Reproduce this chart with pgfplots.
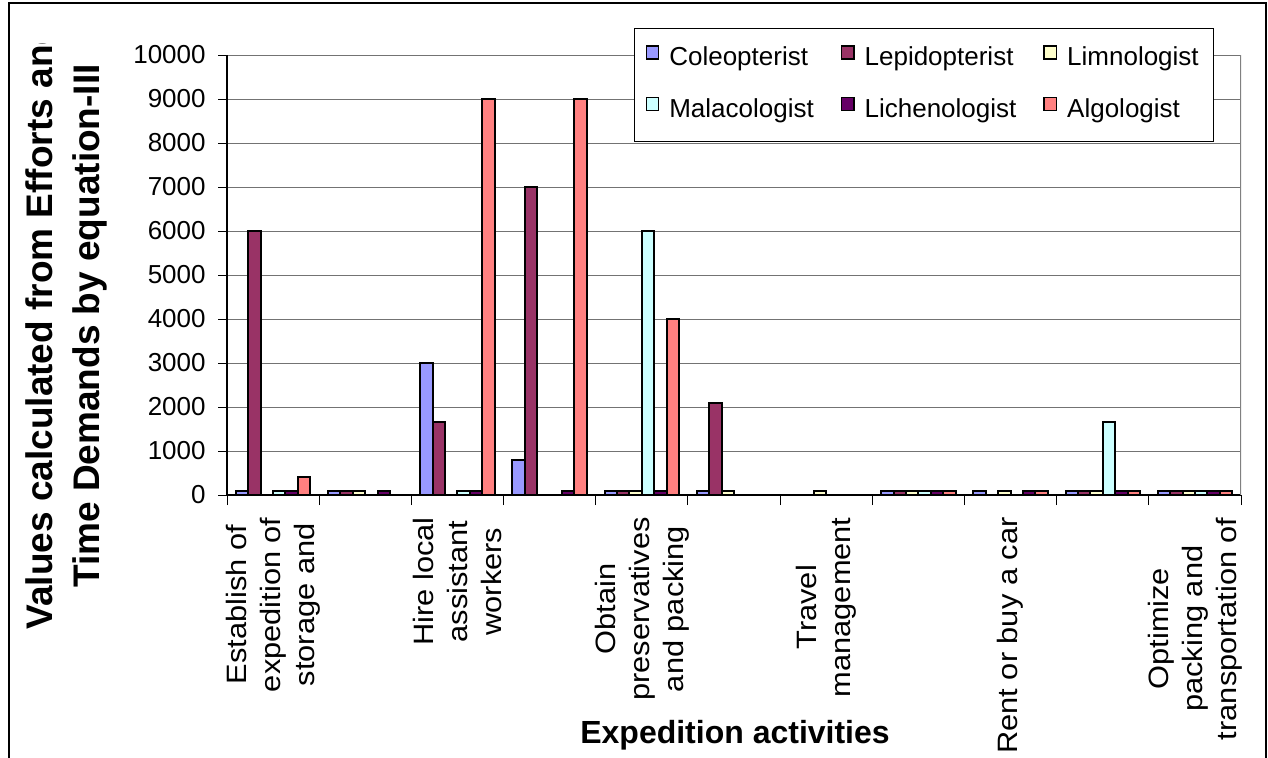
\documentclass[border=0pt]{standalone}
\usepackage{fontspec}
\setmainfont{Liberation Sans}
% the reference is stretched vertically, so rotated labels run a bit long
\newfontfamily\widefont{Liberation Sans}[FakeStretch=1.1]
\usepackage{pgfplots}
\pgfplotsset{compat=1.18}

\definecolor{cole}{HTML}{9999FF}
\definecolor{lepi}{HTML}{993366}
\definecolor{limn}{HTML}{FFFFCC}
\definecolor{mala}{HTML}{CCFFFF}
\definecolor{lich}{HTML}{660066}
\definecolor{algo}{HTML}{FF8080}

% square legend keys, sitting on the text baseline
\pgfplotsset{sq legend/.style={legend image code/.code={%
  \draw[##1, line width=0.7pt] (0pt,0pt) rectangle (6.2pt,6.4pt);}}}

\begin{document}
\begin{tikzpicture}
\begin{axis}[
  at={(113.5pt,-247.5pt)}, anchor=south west,
  scale only axis, width=507pt, height=220pt,
  ybar=0pt, bar width=6.2pt,
  xmin=-0.5, xmax=10.5, ymin=0, ymax=10000,
  axis x line*=bottom, axis y line*=left,
  axis line style={black, line width=0.6pt, -},
  tick align=outside,
  major tick length=4.5pt, minor tick length=5pt,
  every tick/.style={black, line width=0.5pt},
  major x tick style={draw=none},
  xtick={0,2,...,10},
  minor xtick={-0.5,0.5,...,10.5},
  xticklabels={{Establish of\\expedition of\\storage and},
    {Hire local\\assistant\\workers},
    {Obtain\\preservatives\\and packing},
    {Travel\\management},
    {Rent or buy a car},
    {Optimize\\packing and\\transportation of}},
  xticklabel style={rotate=90, anchor=east, align=center, inner sep=0pt,
    font=\widefont\fontsize{14}{17}\selectfont},
  xticklabel shift=6.5pt,
  ytick={0,1000,...,10000},
  scaled y ticks=false,
  yticklabel style={inner sep=0pt, font=\fontsize{13}{15}\selectfont},
  yticklabel shift=6pt,
  /pgf/number format/1000 sep={},
  /pgf/number format/assume math mode=true,
  ymajorgrids,
  major grid style={black!55, line width=0.5pt},
  xlabel={Expedition activities},
  xlabel style={at={(axis description cs:0.501,-0.5636)}, anchor=base,
    inner sep=0pt, font=\bfseries\fontsize{16}{19}\selectfont},
  legend columns=3, legend cell align=left,
  legend style={at={(axis description cs:0.4014,1.0614)}, anchor=north west,
    draw=black, line width=0.5pt, fill=white,
    inner xsep=5.5pt, inner ysep=7pt,
    font=\fontsize{13}{15}\selectfont,
    row sep=9.3pt, column sep=3pt,
    nodes={inner sep=2pt, text height=9.5pt, text depth=3pt},
    /tikz/every even column/.append style={column sep=11.5pt}},
]
\addplot[sq legend, fill=cole, draw=black, line width=1pt] coordinates
  {(0,100) (1,100) (2,3000) (3,800) (4,100) (5,100) (7,100) (8,100) (9,100) (10,100)};
\addplot[sq legend, fill=lepi, draw=black, line width=1pt] coordinates
  {(0,6000) (1,100) (2,1650) (3,7000) (4,100) (5,2100) (7,100) (9,100) (10,100)};
\addplot[sq legend, fill=limn, draw=black, line width=1pt] coordinates
  {(1,100) (4,100) (5,100) (6,100) (7,100) (8,100) (9,100) (10,100)};
\addplot[sq legend, fill=mala, draw=black, line width=1pt] coordinates
  {(0,100) (2,100) (4,6000) (7,100) (9,1650) (10,100)};
\addplot[sq legend, fill=lich, draw=black, line width=1pt] coordinates
  {(0,100) (1,100) (2,100) (3,100) (4,100) (7,100) (8,100) (9,100) (10,100)};
\addplot[sq legend, fill=algo, draw=black, line width=1pt] coordinates
  {(0,400) (2,9000) (3,9000) (4,4000) (7,100) (8,100) (9,100) (10,100)};
\legend{Coleopterist,Lepidopterist,Limnologist,Malacologist,Lichenologist,Algologist}
\draw[black!50, line width=1pt] (rel axis cs:1,0) -- (rel axis cs:1,1);
\end{axis}

% pixel coordinates of the reference: 1px = 0.5pt, y downwards
\begin{scope}[x=0.5pt, y=-0.5pt]
  \begin{scope}
    \clip (9,43) rectangle (220,757);
    \node[rotate=90, anchor=south, inner sep=0pt, align=center,
      font=\bfseries\fontsize{18.5}{23.5}\selectfont] at (108,326)
      {Values calculated from Efforts and\\Time Demands by equation-III};
  \end{scope}
  \draw[black, line width=0.6pt] (9,3) rectangle (1266,800);
  \pgfresetboundingbox
  \path[use as bounding box] (0,0) rectangle (1268,757);
\end{scope}
\end{tikzpicture}
\end{document}
